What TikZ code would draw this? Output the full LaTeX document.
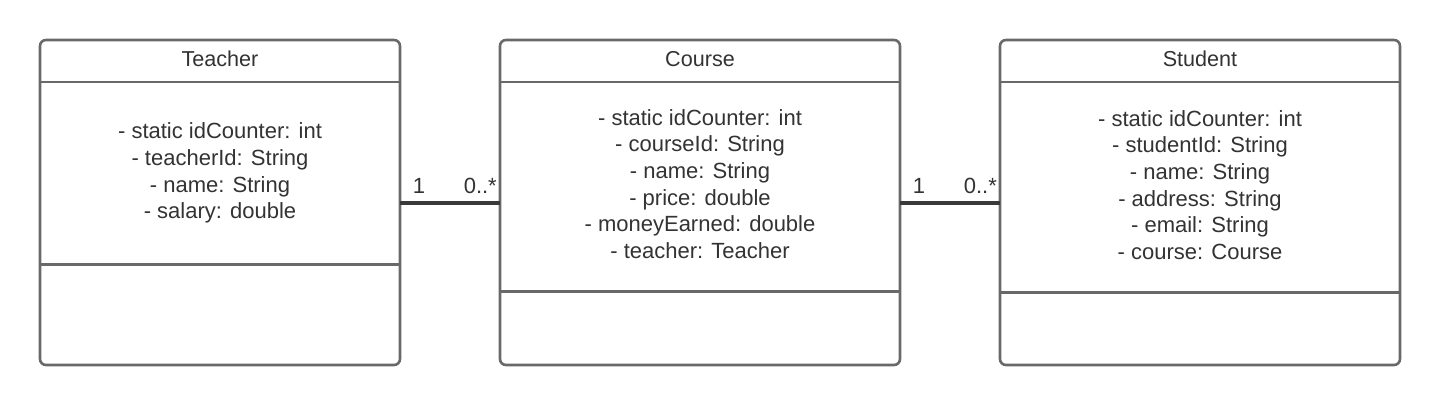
\documentclass[tikz,border=0pt]{standalone}
\usepackage{fontspec}
\setmainfont{Liberation Sans}
\definecolor{boxgray}{RGB}{105,105,105}
\definecolor{linkgray}{RGB}{58,58,58}
\definecolor{txt}{RGB}{51,51,51}
\tikzset{
  classbox/.style={draw=boxgray, line width=2.6pt, rounded corners=6pt, fill=white,
    minimum width=400pt, minimum height=325pt, anchor=north west, inner sep=0pt, outer sep=0pt},
  sepline/.style={draw=boxgray, line width=2.6pt},
  title/.style={text=txt, font=\fontsize{21.6}{26.7}\selectfont, inner sep=0pt, anchor=base},
  attrs/.style={text=txt, font=\fontsize{22}{26.7}\selectfont, align=center, inner sep=0pt},
  assoc/.style={draw=linkgray, line width=4pt},
  mult/.style={text=txt, font=\fontsize{22}{26.7}\selectfont, inner sep=0pt, anchor=base}
}
\begin{document}
\begin{tikzpicture}[x=1pt,y=-1pt]
\useasboundingbox[fill=white] (0,0) rectangle (1440,407);
% boxes
\node[classbox, minimum width=360pt] (teacher) at (40,40) {};
\node[classbox] (course) at (500,40) {};
\node[classbox] (student) at (1000,40) {};
% separators
\draw[sepline] (40,82) -- (400,82);
\draw[sepline] (40,264.5) -- (400,264.5);
\draw[sepline] (500,82) -- (900,82);
\draw[sepline] (500,291.5) -- (900,291.5);
\draw[sepline] (1000,82) -- (1400,82);
\draw[sepline] (1000,292.5) -- (1400,292.5);
% titles
\node[title] (tt) at (220,66.5) {Teacher};
\node[title] (ct) at (700,66.5) {Course};
\node[title] (st) at (1200,66.5) {Student};
% attributes
\node[attrs] (ta) at (220,173) {- static idCounter: int\\- teacherId: String\\- name: String\\- salary: double};
\node[attrs] (ca) at (700,184) {- static idCounter: int\\- courseId: String\\- name: String\\- price: double\\- moneyEarned: double\\- teacher: Teacher};
\node[attrs] (sa) at (1200,185) {- static idCounter: int\\- studentId: String\\- name: String\\- address: String\\- email: String\\- course: Course};
% associations
\draw[assoc] (teacher) -- (course);
\draw[assoc] (course) -- (student);
\node[mult] (m1) at (419,193) {1};
\node[mult, anchor=base east] (m2) at (497,193) {0..*};
\node[mult] (m3) at (919,193) {1};
\node[mult, anchor=base east] (m4) at (997,193) {0..*};
\end{tikzpicture}
\end{document}
